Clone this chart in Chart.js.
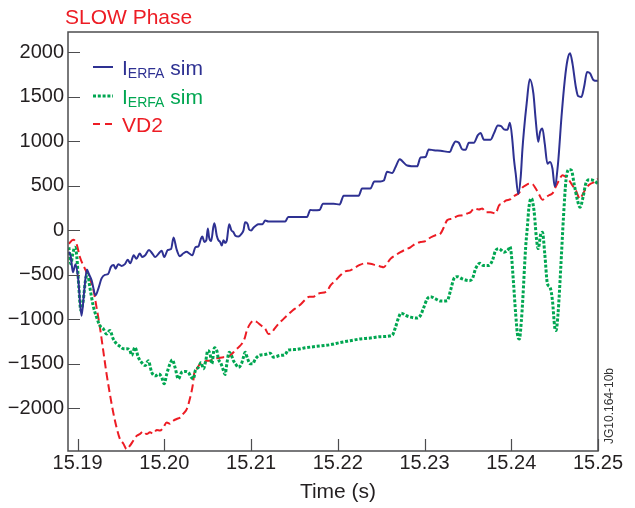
<!DOCTYPE html>
<html>
<head>
<meta charset="utf-8">
<title>SLOW Phase</title>
<script src="https://cdn.jsdelivr.net/npm/chart.js@4.4.1/dist/chart.umd.min.js"></script>
<style>
  html, body { margin: 0; padding: 0; background: #fff; }
  #graphe { display: block; }
</style>
</head>
<body>
<canvas id="graphe" width="635" height="508"></canvas>
<script>
// Données (temps en s, courant en A)
const blueTime = [15.18900, 15.18923, 15.18946, 15.18977, 15.19007, 15.19046, 15.19076, 15.19107, 15.19131, 15.19162,
    15.19208, 15.19238, 15.19277, 15.19315, 15.19353, 15.19385, 15.19416, 15.19439, 15.19469, 15.19508,
    15.19546, 15.19578, 15.19608, 15.19647, 15.19679, 15.19717, 15.19746, 15.19780, 15.19824, 15.19862,
    15.19896, 15.19936, 15.19970, 15.20000, 15.20040, 15.20078, 15.20107, 15.20141, 15.20179, 15.20218,
    15.20257, 15.20289, 15.20324, 15.20358, 15.20393, 15.20424, 15.20439, 15.20462, 15.20485, 15.20502,
    15.20517, 15.20540, 15.20566, 15.20578, 15.20605, 15.20624, 15.20644, 15.20663, 15.20682, 15.20701,
    15.20721, 15.20748, 15.20774, 15.20797, 15.20820, 15.20855, 15.20890, 15.20913, 15.20932, 15.20961,
    15.20978, 15.21002, 15.21028, 15.21051, 15.21086, 15.21132, 15.21163, 15.21201, 15.21394, 15.21429,
    15.21645, 15.21683, 15.21721, 15.21790, 15.21830, 15.21952, 15.22021, 15.22068, 15.22241, 15.22280,
    15.22376, 15.22422, 15.22492, 15.22530, 15.22569, 15.22627, 15.22665, 15.22715, 15.22742, 15.22800,
    15.22915, 15.22954, 15.23011, 15.23049, 15.23107, 15.23185, 15.23292, 15.23320, 15.23358, 15.23396,
    15.23435, 15.23473, 15.23511, 15.23569, 15.23615, 15.23646, 15.23685, 15.23762, 15.23800, 15.23846,
    15.23886, 15.23916, 15.23955, 15.23985, 15.24013, 15.24031, 15.24051, 15.24080, 15.24109, 15.24128,
    15.24147, 15.24178, 15.24213, 15.24255, 15.24282, 15.24311, 15.24332, 15.24359, 15.24386, 15.24417,
    15.24447, 15.24475, 15.24501, 15.24539, 15.24579, 15.24617, 15.24648, 15.24678, 15.24706, 15.24744,
    15.24770, 15.24809, 15.24840, 15.24874, 15.24909, 15.24948, 15.25000];
const blueValue = [-240, -300, -470, -380, -540, -960, -690, -440, -490, -560,
    -730, -660, -540, -500, -490, -410, -390, -430, -380, -400,
    -380, -330, -370, -280, -320, -260, -300, -280, -220, -260,
    -300, -260, -230, -300, -220, -210, -80, -210, -290, -260,
    -240, -260, -280, -190, -180, -90, -70, -130, -110, 20,
    -80, -120, 40, 80, -60, -110, -130, -170, -110, -140,
    -110, 70, 0, -20, -60, -70, -40, 0, 90, 70,
    10, 0, 30, 50, 70, 70, 110, 100, 100, 150,
    150, 230, 225, 230, 300, 300, 290, 390, 390, 470,
    470, 550, 550, 560, 660, 645, 710, 800, 780, 730,
    720, 820, 825, 910, 900, 895, 880, 940, 1000, 985,
    910, 905, 985, 985, 1070, 1095, 1020, 1020, 1090, 1180,
    1170, 1135, 1130, 1210, 1010, 800, 640, 410, 600, 900,
    1130, 1430, 1700, 1540, 1240, 995, 1105, 1145, 975, 750,
    770, 695, 495, 750, 1275, 1690, 1915, 1990, 1875, 1615,
    1510, 1500, 1615, 1780, 1765, 1690, 1680];

const greenTime = [15.18900, 15.18923, 15.18946, 15.18969, 15.18992, 15.19015, 15.19038, 15.19065, 15.19092, 15.19116,
    15.19142, 15.19180, 15.19219, 15.19258, 15.19296, 15.19335, 15.19373, 15.19411, 15.19450, 15.19489,
    15.19527, 15.19566, 15.19604, 15.19624, 15.19662, 15.19700, 15.19739, 15.19780, 15.19815, 15.19855,
    15.19896, 15.19936, 15.19970, 15.19999, 15.20028, 15.20066, 15.20093, 15.20124, 15.20162, 15.20201,
    15.20239, 15.20277, 15.20309, 15.20335, 15.20358, 15.20393, 15.20424, 15.20451, 15.20478, 15.20502,
    15.20528, 15.20548, 15.20578, 15.20605, 15.20624, 15.20655, 15.20682, 15.20701, 15.20721, 15.20748,
    15.20774, 15.20797, 15.20820, 15.20855, 15.20890, 15.20913, 15.20932, 15.20961, 15.20990, 15.21017,
    15.21051, 15.21094, 15.21163, 15.21221, 15.21259, 15.21337, 15.21394, 15.21429, 15.21510, 15.21625,
    15.21741, 15.21914, 15.22030, 15.22145, 15.22261, 15.22376, 15.22492, 15.22627, 15.22665, 15.22703,
    15.22731, 15.22780, 15.22838, 15.22915, 15.22954, 15.22992, 15.23031, 15.23069, 15.23127, 15.23185,
    15.23262, 15.23300, 15.23338, 15.23377, 15.23435, 15.23511, 15.23551, 15.23589, 15.23638, 15.23678,
    15.23742, 15.23782, 15.23820, 15.23858, 15.23916, 15.23973, 15.23985, 15.24001, 15.24024, 15.24051,
    15.24077, 15.24094, 15.24117, 15.24132, 15.24166, 15.24186, 15.24204, 15.24232, 15.24262, 15.24293,
    15.24311, 15.24340, 15.24359, 15.24386, 15.24417, 15.24447, 15.24475, 15.24501, 15.24516, 15.24539,
    15.24571, 15.24602, 15.24631, 15.24666, 15.24694, 15.24724, 15.24763, 15.24793, 15.24828, 15.24859,
    15.24897, 15.24937, 15.24975, 15.25000];
const greenValue = [-190, -375, -260, -190, -300, -640, -900, -790, -560, -490,
    -640, -845, -975, -1070, -1105, -1165, -1125, -1220, -1275, -1305,
    -1330, -1330, -1350, -1405, -1315, -1425, -1485, -1520, -1465, -1595,
    -1635, -1615, -1650, -1725, -1615, -1500, -1455, -1540, -1670, -1595,
    -1585, -1595, -1650, -1670, -1575, -1540, -1485, -1555, -1465, -1350,
    -1390, -1500, -1320, -1350, -1445, -1500, -1575, -1620, -1500, -1370,
    -1405, -1465, -1500, -1540, -1500, -1425, -1370, -1445, -1500, -1500,
    -1445, -1405, -1395, -1380, -1425, -1405, -1395, -1345, -1340, -1320,
    -1305, -1285, -1260, -1240, -1220, -1210, -1195, -1180, -1090, -975,
    -930, -955, -975, -985, -955, -865, -770, -745, -770, -795,
    -790, -675, -545, -520, -545, -565, -545, -430, -370, -395,
    -395, -340, -225, -205, -245, -205, -180, -270, -565, -940,
    -1200, -1220, -1010, -790, -190, 40, 260, 360, 225, -115,
    -205, -40, -20, -260, -600, -640, -790, -1090, -1125, -940,
    -415, 150, 565, 685, 675, 525, 340, 260, 375, 525,
    570, 565, 545, 525];

const redTime = [15.18900, 15.18949, 15.18988, 15.19027, 15.19084, 15.19131, 15.19180, 15.19219, 15.19258, 15.19296,
    15.19335, 15.19373, 15.19411, 15.19450, 15.19489, 15.19527, 15.19566, 15.19604, 15.19642, 15.19681,
    15.19717, 15.19758, 15.19797, 15.19835, 15.19873, 15.19912, 15.19951, 15.19989, 15.20028, 15.20066,
    15.20104, 15.20143, 15.20181, 15.20220, 15.20259, 15.20297, 15.20330, 15.20347, 15.20374, 15.20413,
    15.20451, 15.20490, 15.20528, 15.20566, 15.20624, 15.20682, 15.20739, 15.20778, 15.20817, 15.20855,
    15.20894, 15.20924, 15.20952, 15.20990, 15.21028, 15.21067, 15.21117, 15.21163, 15.21201, 15.21233,
    15.21271, 15.21317, 15.21375, 15.21433, 15.21479, 15.21529, 15.21568, 15.21625, 15.21672, 15.21721,
    15.21760, 15.21798, 15.21876, 15.21914, 15.21972, 15.22030, 15.22087, 15.22145, 15.22203, 15.22261,
    15.22318, 15.22376, 15.22434, 15.22492, 15.22530, 15.22569, 15.22607, 15.22665, 15.22723, 15.22780,
    15.22838, 15.22896, 15.22954, 15.23011, 15.23069, 15.23127, 15.23185, 15.23223, 15.23262, 15.23320,
    15.23377, 15.23435, 15.23493, 15.23531, 15.23569, 15.23627, 15.23666, 15.23704, 15.23762, 15.23820,
    15.23858, 15.23897, 15.23935, 15.23993, 15.24039, 15.24089, 15.24128, 15.24166, 15.24204, 15.24244,
    15.24282, 15.24320, 15.24359, 15.24397, 15.24435, 15.24475, 15.24513, 15.24551, 15.24590, 15.24631,
    15.24666, 15.24706, 15.24744, 15.24793, 15.24828, 15.24874, 15.24917, 15.24963, 15.25000];
const redValue = [-150, -105, -150, -300, -430, -525, -655, -865, -1090, -1350,
    -1615, -1840, -2045, -2215, -2345, -2395, -2460, -2420, -2365, -2310,
    -2290, -2260, -2290, -2270, -2285, -2245, -2250, -2215, -2160, -2175,
    -2140, -2120, -2105, -2060, -2010, -1885, -1730, -1595, -1555, -1500,
    -1485, -1465, -1465, -1445, -1435, -1425, -1420, -1390, -1350, -1315,
    -1275, -1220, -1125, -1050, -1015, -1030, -1070, -1105, -1165, -1155,
    -1105, -1050, -995, -940, -900, -865, -835, -780, -745, -745,
    -715, -705, -685, -620, -565, -505, -460, -450, -415, -385,
    -370, -375, -390, -405, -415, -370, -320, -280, -245, -215,
    -190, -150, -130, -120, -80, -55, -35, 35, 115, 130,
    160, 170, 190, 205, 245, 235, 245, 205, 205, 190,
    280, 300, 335, 350, 390, 420, 480, 505, 525, 520,
    470, 405, 345, 370, 395, 415, 490, 565, 620, 600,
    565, 505, 450, 355, 415, 490, 525, 545, 580];

const xTicks = [15.19, 15.20, 15.21, 15.22, 15.23, 15.24, 15.25];
const yTicks = [-2000, -1500, -1000, -500, 0, 500, 1000, 1500, 2000];

const police = "'Liberation Sans', Arial, Helvetica, sans-serif";
const couleurBleu = '#2e3192';
const couleurVert = '#00a651';
const couleurRouge = '#ed1c24';
const couleurAxe = '#4d4d4f';

function versPoints(temps, valeurs) {
    return temps.map((t, i) => ({ x: t, y: valeurs[i] }));
}

// Cadre complet + graduations tournées vers l'intérieur
const cadre = {
    id: 'cadre',
    afterDatasetsDraw(chart) {
        const { ctx, chartArea: a, scales: { x, y } } = chart;
        ctx.save();
        ctx.strokeStyle = couleurAxe;
        ctx.lineWidth = 1.5;
        ctx.strokeRect(a.left, a.top, a.right - a.left, a.bottom - a.top);
        ctx.lineWidth = 1.2;
        ctx.beginPath();
        xTicks.forEach(v => {
            const px = Math.round(x.getPixelForValue(v)) + 0.5;
            ctx.moveTo(px, a.bottom);
            ctx.lineTo(px, a.bottom - 12);
        });
        yTicks.forEach(v => {
            const py = Math.round(y.getPixelForValue(v)) + 0.5;
            ctx.moveTo(a.left, py);
            ctx.lineTo(a.left + 12, py);
        });
        ctx.stroke();
        ctx.restore();
    }
};

// Légende avec indice (I_ERFA), titre, titre de l'axe et référence
const legendeItems = [
    { couleur: couleurBleu, dash: [], largeur: 2, texte: 'I', indice: 'ERFA', suite: ' sim', y: 67 },
    { couleur: couleurVert, dash: [3, 1.8], largeur: 3, texte: 'I', indice: 'ERFA', suite: ' sim', y: 96 },
    { couleur: couleurRouge, dash: [7, 5], largeur: 2, texte: 'VD2', indice: '', suite: '', y: 124 }
];

const textes = {
    id: 'textes',
    afterDraw(chart) {
        const ctx = chart.ctx;
        ctx.save();

        ctx.fillStyle = couleurRouge;
        ctx.font = '21px ' + police;
        ctx.textAlign = 'left';
        ctx.textBaseline = 'alphabetic';
        ctx.fillText('SLOW Phase', 65, 23.5);

        legendeItems.forEach(item => {
            ctx.strokeStyle = item.couleur;
            ctx.lineWidth = item.largeur;
            ctx.setLineDash(item.dash);
            ctx.beginPath();
            ctx.moveTo(93, item.y);
            ctx.lineTo(113, item.y);
            ctx.stroke();
            ctx.setLineDash([]);

            let xt = 122;
            const base = item.y + 7.5;
            ctx.fillStyle = item.couleur;
            ctx.font = '21px ' + police;
            ctx.fillText(item.texte, xt, base);
            xt += ctx.measureText(item.texte).width;
            if (item.indice) {
                ctx.font = '14px ' + police;
                ctx.fillText(item.indice, xt, base + 3);
                xt += ctx.measureText(item.indice).width;
            }
            if (item.suite) {
                ctx.font = '21px ' + police;
                ctx.fillText(item.suite, xt, base);
            }
        });

        ctx.fillStyle = '#231f20';
        ctx.font = '21px ' + police;
        ctx.textAlign = 'center';
        ctx.fillText('Time (s)', 338, 498);

        ctx.translate(610, 406);
        ctx.rotate(-Math.PI / 2);
        ctx.font = '12px ' + police;
        ctx.fillStyle = '#333333';
        ctx.textBaseline = 'middle';
        ctx.fillText('JG10.164-10b', 0, 0);
        ctx.restore();
    }
};

const ctx = document.getElementById('graphe').getContext('2d');
const graphe = new Chart(ctx, {
    type: 'line',
    data: {
        datasets: [
            {
                label: 'I_ERFA sim',
                data: versPoints(blueTime, blueValue),
                borderColor: couleurBleu,
                borderWidth: 2,
                pointRadius: 0,
                cubicInterpolationMode: 'monotone'
            },
            {
                label: 'I_ERFA sim (2)',
                data: versPoints(greenTime, greenValue),
                borderColor: couleurVert,
                borderWidth: 3,
                borderDash: [3, 1.8],
                borderCapStyle: 'butt',
                pointRadius: 0,
                cubicInterpolationMode: 'monotone'
            },
            {
                label: 'VD2',
                data: versPoints(redTime, redValue),
                borderColor: couleurRouge,
                borderWidth: 2,
                borderDash: [8, 4],
                pointRadius: 0,
                cubicInterpolationMode: 'monotone'
            }
        ]
    },
    options: {
        responsive: false,
        animation: false,
        devicePixelRatio: 1,
        layout: { padding: { left: 0, top: 32, right: 37, bottom: 0 } },
        plugins: {
            legend: { display: false },
            title: { display: false },
            tooltip: { enabled: false }
        },
        scales: {
            x: {
                type: 'linear',
                min: 15.1889,
                max: 15.25,
                afterBuildTicks: scale => { scale.ticks = xTicks.map(v => ({ value: v })); },
                afterFit: scale => { scale.height = 57; },
                grid: { drawOnChartArea: false, drawTicks: false },
                border: { display: false },
                ticks: {
                    color: '#231f20',
                    font: { family: police, size: 20 },
                    padding: 0,
                    maxRotation: 0,
                    autoSkip: false,
                    callback: v => v.toFixed(2)
                }
            },
            y: {
                min: -2480,
                max: 2230,
                afterBuildTicks: scale => { scale.ticks = yTicks.map(v => ({ value: v })); },
                afterFit: scale => { scale.width = 68; },
                grid: { drawOnChartArea: false, drawTicks: false },
                border: { display: false },
                ticks: {
                    color: '#231f20',
                    font: { family: police, size: 20 },
                    padding: 4,
                    callback: v => String(v).replace('-', '\u2212')
                }
            }
        }
    },
    plugins: [cadre, textes]
});
</script>
</body>
</html>
